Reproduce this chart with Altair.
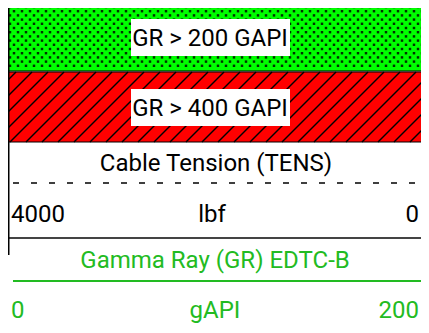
import altair as alt
import pandas as pd

# ---- content ----
band_labels = ["GR > 200 GAPI", "GR > 400 GAPI"]
band_fills = ["#00ff00", "#ff0000"]
band_top = [4, 72]
band_bottom = [71, 142]
box_left = [131, 131]
box_right = [290, 290]
box_top = [19, 89]
box_bottom = [56, 126]
label_base = [46, 116]

tens_title = "Cable Tension (TENS)"
tens_left, tens_unit, tens_right = "4000", "lbf", "0"
gr_title = "Gamma Ray (GR) EDTC-B"
gr_left, gr_unit, gr_right = "0", "gAPI", "200"

# page window reachable: x 8..421, y 8..333 (page coordinates used below)
X0, X1, Y0, Y1 = 8, 421, 8, 333
FONT = "Roboto, Liberation Sans, Arial"
FS = 24
GREEN = "#22bb22"

xs = alt.Scale(domain=[X0, X1], nice=False, zero=False)
ys = alt.Scale(domain=[Y0, Y1], nice=False, zero=False, reverse=True)

def X(f, **k):
    return alt.X(f, scale=xs, axis=None, **k)

def Y(f, **k):
    return alt.Y(f, scale=ys, axis=None, **k)

bands = pd.DataFrame({
    "label": band_labels, "fill": band_fills, "y0": band_top, "y1": band_bottom,
    "bx0": box_left, "bx1": box_right, "by0": box_top, "by1": box_bottom,
    "base": label_base,
})
bands["x0"] = 0
bands["x1"] = 429

band_rects = alt.Chart(bands).mark_rect(stroke="black", strokeWidth=1.2).encode(
    x=X("x0:Q"), x2="x1", y=Y("y0:Q"), y2="y1",
    fill=alt.Fill("fill:N", scale=None),
)

dots = alt.Chart(alt.sequence(0, 54 * 16)).transform_calculate(
    col="datum.data % 54", row="floor(datum.data / 54)"
).transform_calculate(
    px="datum.col * 8 + (datum.row % 2) * 4 + 2",
    py="7 + datum.row * 4.2",
).transform_filter("datum.py < 70").mark_square(size=6, color="#001a00", opacity=0.9).encode(
    x=X("px:Q"), y=Y("py:Q")
)

hatch = alt.Chart(alt.sequence(0, 32)).transform_calculate(
    hx0="-70 + datum.data * 16", hx1="datum.data * 16", hy0="142", hy1="72"
).mark_rule(color="black", strokeWidth=1.5, clip=True).encode(
    x=X("hx0:Q"), x2="hx1:Q", y=Y("hy0:Q"), y2="hy1:Q"
)

boxes = alt.Chart(bands).mark_rect(fill="white").encode(
    x=X("bx0:Q"), x2="bx1", y=Y("by0:Q"), y2="by1"
)
box_text = alt.Chart(bands).mark_text(font=FONT, fontSize=FS, baseline="alphabetic", color="black").encode(
    x=X("xc:Q"), y=Y("base:Q"), text="label:N"
).transform_calculate(xc="210")

left_line = alt.Chart(pd.DataFrame({"a": [0]})).mark_rule(color="black", strokeWidth=1.5).encode(
    x=X("lx:Q"), y=Y("ly0:Q"), y2="ly1:Q"
).transform_calculate(lx="8.75", ly0="0", ly1="255")

texts = pd.DataFrame({
    "text": [tens_title, tens_left, tens_unit, tens_right, gr_title, gr_left, gr_unit, gr_right],
    "group": ["t", "t", "t", "t", "g", "g", "g", "g"],
})
texts["x"] = [216, 11, 212, 419, 215, 11, 215, 419]
texts["y"] = [171, 222, 222, 222, 268, 318, 318, 318]
texts["al"] = ["center", "left", "center", "right", "center", "left", "center", "right"]

def tlayer(al, grp, color):
    d = texts[(texts["al"] == al) & (texts["group"] == grp)]
    return alt.Chart(d).mark_text(font=FONT, fontSize=FS, align=al, baseline="alphabetic", color=color).encode(
        x=X("x:Q"), y=Y("y:Q"), text="text:N"
    )

text_layers = [tlayer(a, g, c) for g, c in [("t", "black"), ("g", GREEN)] for a in ["left", "center", "right"]]

lines = pd.DataFrame({
    "kind": ["dash", "gray", "green"],
    "x0": [13, 8, 13], "x1": [421, 421, 421], "y": [183, 238, 281],
})

def hline(kind, **style):
    return alt.Chart(lines[lines["kind"] == kind]).mark_rule(**style).encode(
        x=X("x0:Q"), x2="x1:Q", y=Y("y:Q")
    )

dash = hline("dash", color="black", strokeWidth=1.5, strokeDash=[6, 12])
gray = hline("gray", color="#444444", strokeWidth=2)
gline = hline("green", color=GREEN, strokeWidth=2)

chart = alt.layer(
    band_rects, dots, hatch, boxes, box_text,
    *text_layers, dash, gray, gline, left_line,
).properties(
    width=X1 - X0, height=Y1 - Y0, autosize=alt.AutoSizeParams(type="none"), padding=0,
).configure_view(stroke=None)

chart.save("out.html", embed_options={"renderer": "svg", "actions": False})
